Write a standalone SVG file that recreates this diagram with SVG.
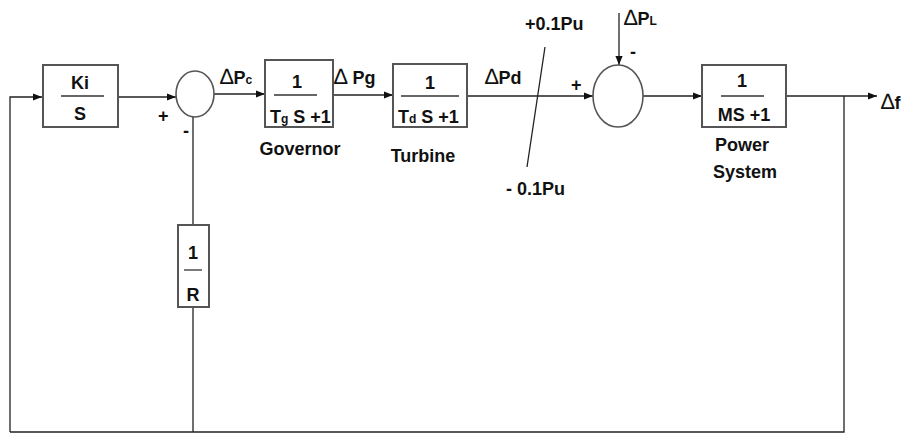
<svg xmlns="http://www.w3.org/2000/svg" width="906" height="434" viewBox="0 0 906 434">
<defs>
<marker id="ah" viewBox="0 0 10 10" refX="10" refY="5" markerWidth="9" markerHeight="9" markerUnits="userSpaceOnUse" orient="auto">
<path d="M0,1 L10,5 L0,9 z" fill="#111"/>
</marker>
</defs>
<style>
.box{fill:#fff;stroke:#555;stroke-width:2}
.sum{fill:#fff;stroke:#555;stroke-width:1.6}
.ln{fill:none;stroke:#222;stroke-width:1.3}
.fr{stroke:#333;stroke-width:1.3}
.t{font-family:"Liberation Sans",Arial,sans-serif;font-weight:bold;font-size:18px;fill:#111}
.tc{text-anchor:middle}
.d{font-weight:normal;font-size:22px}
.sub{font-size:12px}
</style>
<g id="connectors">
<path class="ln" d="M10,432 V97 H42" marker-end="url(#ah)"/>
<path class="ln" d="M118,97 H176" marker-end="url(#ah)"/>
<path class="ln" d="M214,94 H265" marker-end="url(#ah)"/>
<path class="ln" d="M333,95 H393" marker-end="url(#ah)"/>
<path class="ln" d="M467,96 H593" marker-end="url(#ah)"/>
<path class="ln" d="M619,13 V65" marker-end="url(#ah)"/>
<path class="ln" d="M643,96 H702" marker-end="url(#ah)"/>
<path class="ln" d="M786,96 H877" marker-end="url(#ah)"/>
<path class="ln" d="M844,96 V432 H10"/>
<path class="ln" d="M193,432 V307"/>
<path class="ln" d="M193,225 V117"/>
<path class="ln" d="M545,47 L527,167"/>
</g>
<g id="ki">
<rect class="box" x="43" y="65" width="75" height="62"/>
<text class="t tc" x="80" y="89">Ki</text>
<line class="fr" x1="61" y1="96" x2="104" y2="96"/>
<text class="t tc" x="80" y="120">S</text>
</g>
<g id="sum1">
<ellipse class="sum" cx="195" cy="94" rx="19" ry="23"/>
<text class="t" x="158" y="122">+</text>
<text class="t" x="183" y="137">-</text>
</g>
<g id="governor">
<rect class="box" x="265" y="60" width="68" height="67"/>
<text class="t tc" x="297" y="88">1</text>
<line class="fr" x1="274" y1="95" x2="317" y2="95"/>
<text class="t" x="270" y="123">T<tspan class="sub">g</tspan> S +1</text>
<text class="t tc" x="300" y="155">Governor</text>
</g>
<g id="turbine">
<rect class="box" x="393" y="64" width="74" height="63"/>
<text class="t tc" x="430" y="89">1</text>
<line class="fr" x1="401" y1="96" x2="459" y2="96"/>
<text class="t" x="398" y="123">T<tspan class="sub">d</tspan> S +1</text>
<text class="t tc" x="423" y="162">Turbine</text>
</g>
<g id="sum2">
<ellipse class="sum" cx="618" cy="96" rx="25" ry="31"/>
<text class="t" x="571" y="91">+</text>
<text class="t" x="630" y="58">-</text>
</g>
<g id="power">
<rect class="box" x="702" y="65" width="84" height="62"/>
<text class="t tc" x="742" y="87">1</text>
<line class="fr" x1="721" y1="96" x2="764" y2="96"/>
<text class="t tc" x="744" y="121">MS +1</text>
<text class="t tc" x="742" y="151">Power</text>
<text class="t tc" x="745" y="178">System</text>
</g>
<g id="rgain">
<rect class="box" x="178" y="225" width="31" height="82"/>
<text class="t tc" x="193" y="259">1</text>
<line class="fr" x1="184" y1="270" x2="202" y2="270"/>
<text class="t tc" x="193" y="301">R</text>
</g>
<g id="labels">
<text class="t" x="220" y="84"><tspan class="d">∆</tspan>P<tspan class="sub">c</tspan></text>
<text class="t" x="334" y="84"><tspan class="d">∆</tspan> Pg</text>
<text class="t" x="485" y="84"><tspan class="d">∆</tspan>Pd</text>
<text class="t" x="525" y="30">+0.1Pu</text>
<text class="t" x="506" y="195">- 0.1Pu</text>
<text class="t" x="624" y="25"><tspan class="d">∆</tspan>P<tspan class="sub">L</tspan></text>
<text class="t" x="881" y="109"><tspan class="d">∆</tspan>f</text>
</g>
</svg>
